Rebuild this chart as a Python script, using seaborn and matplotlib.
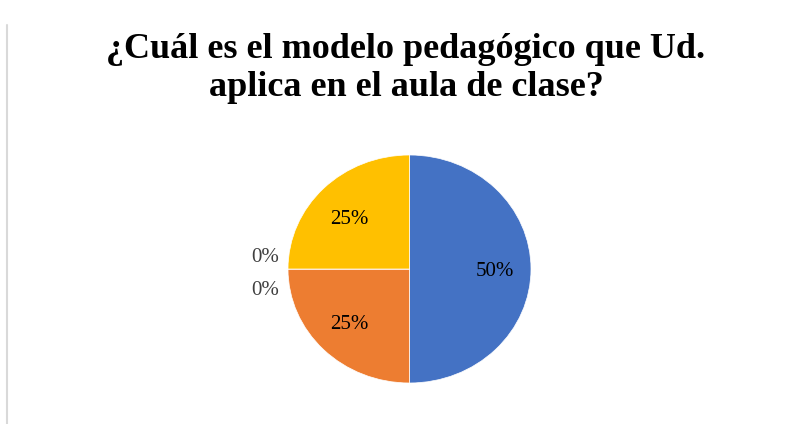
import matplotlib
matplotlib.use("Agg")
import matplotlib.pyplot as plt
import seaborn as sns
import numpy as np

# datos del grafico
categorias = ["Modelo 1", "Modelo 2", "Modelo 3", "Modelo 4", "Modelo 5"]
porcentajes = [50, 25, 0, 0, 25]
colores = ["#4472C4", "#ED7D31", "#A5A5A5", "#5B9BD5", "#FFC000"]
titulo = "¿Cuál es el modelo pedagógico que Ud.\naplica en el aula de clase?"

sns.set_theme(style="white")
plt.rcParams['font.family'] = ['Liberation Serif', 'DejaVu Serif']

fig = plt.figure(figsize=(7.94, 4.24), dpi=100)
fig.patch.set_facecolor("white")

# linea gris del borde izquierdo
fig.add_artist(plt.Line2D([7/794, 7/794], [0, 1 - 25/424], color="#D9D9D9", lw=1.5))

fig.text(406/794, 1 - 69/424, titulo, ha="center", va="center", fontsize=26,
         fontweight="bold", linespacing=1.2, color="black")

ax = fig.add_axes([288/794, 41/424, 243/794, 228/424])
wedges, textos, pcts = ax.pie(porcentajes, colors=colores, startangle=90, counterclock=False,
                              autopct=lambda p: f"{p:.0f}%", pctdistance=0.7,
                              textprops=dict(fontsize=15, color="black"),
                              wedgeprops=dict(linewidth=0.5, edgecolor="white"))
ax.set_xlim(-1, 1)
ax.set_ylim(-1, 1)
ax.set_aspect("auto")
ax.axis("off")

# las etiquetas de 0% van afuera, una sobre otra
desplaz = {2: -0.19, 3: 0.10}
for i, t in enumerate(pcts):
    if porcentajes[i] == 0:
        w = wedges[i]
        ang = np.deg2rad(w.theta1)
        t.set_position((1.19 * np.cos(ang), desplaz[i]))
        t.set_color("#404040")
    else:
        x, y = t.get_position()
        t.set_position((x, y * 0.93 - 0.025))

fig.savefig("out.png", dpi=100)
